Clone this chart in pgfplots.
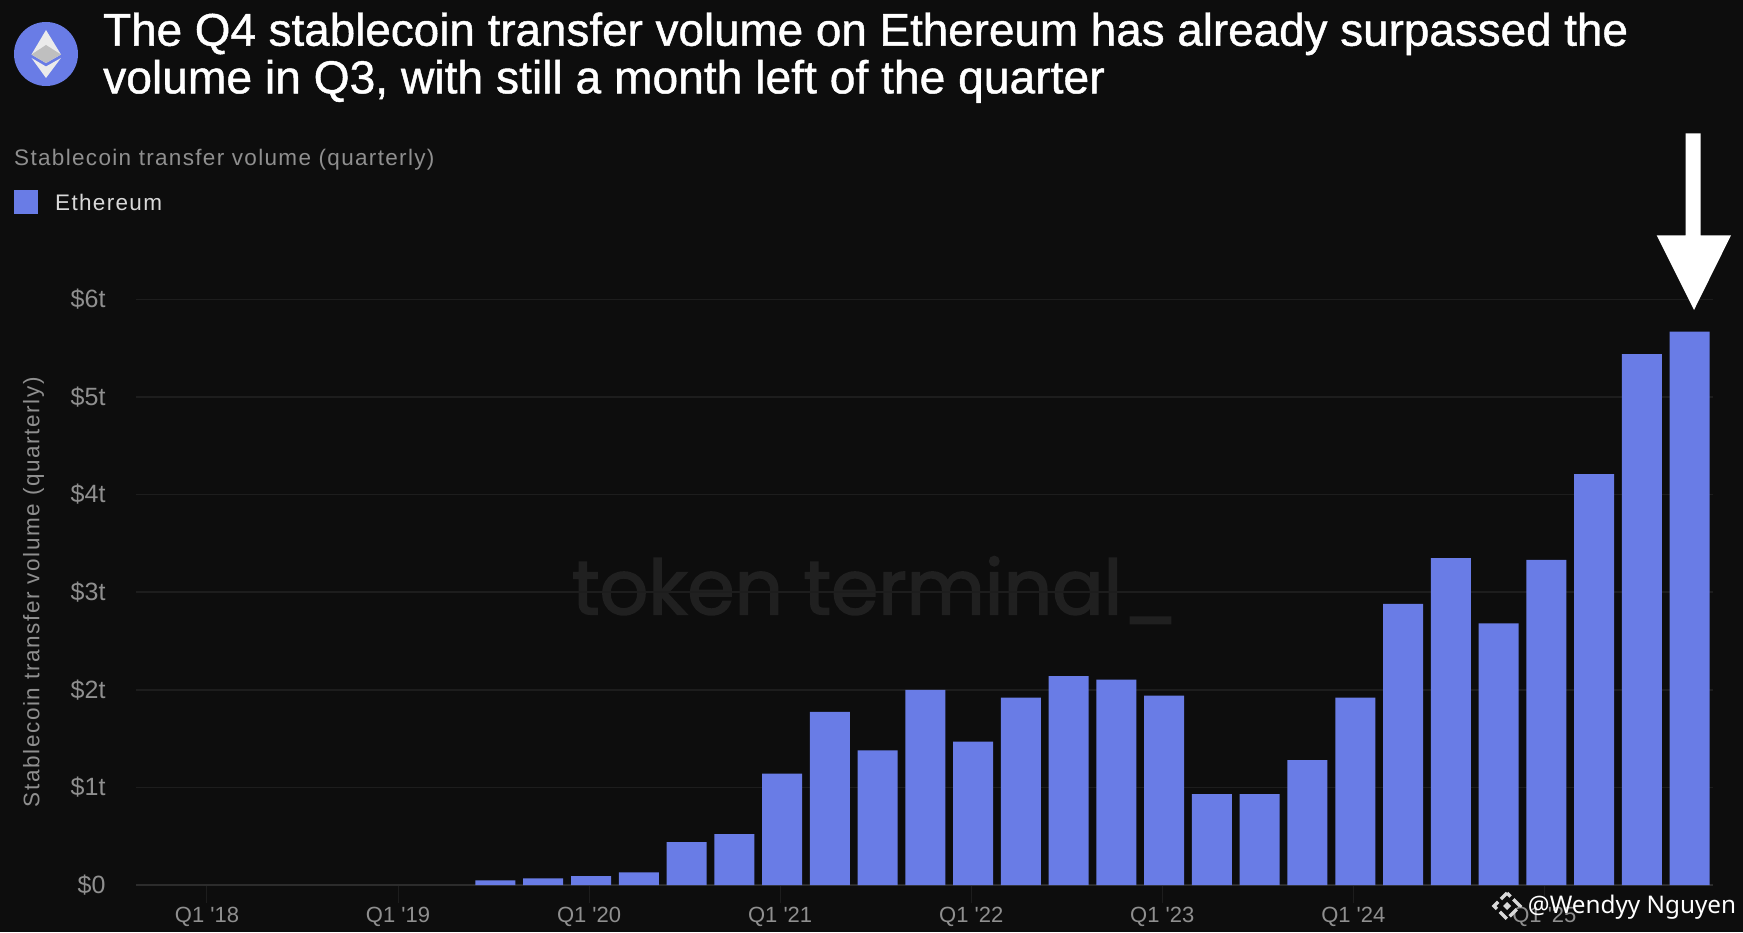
\documentclass[border=0pt]{standalone}
\usepackage{fontspec}
\setmainfont{Liberation Sans}
\newfontfamily\wmfont[FakeBold=2]{Poppins}
\newfontfamily\opfont{Noto Sans}
\newfontfamily\titlefont[FakeBold=1]{Liberation Sans}
\newfontfamily\spfont[LetterSpace=5.9]{Liberation Sans}
\newfontfamily\ylfont[LetterSpace=7.2]{Liberation Sans}
\newfontfamily\tickfont{Liberation Sans}
\usepackage{pgfplots}
\pgfplotsset{compat=1.18}
\definecolor{bg}{HTML}{0D0D0D}
\definecolor{barc}{HTML}{697CE6}
\definecolor{gridc}{HTML}{1D1D1D}
\definecolor{axc}{HTML}{2C2C2C}
\definecolor{lab}{HTML}{8F8F8F}
\definecolor{wm}{HTML}{202020}
\begin{document}
\begin{tikzpicture}[x=1pt,y=1pt]
\path[use as bounding box,fill=bg] (0,0) rectangle (1743,932);
\node[anchor=center,text=wm,inner sep=0pt] at (875,342) {\fontsize{76}{85}\wmfont\selectfont token terminal\_};
\begin{axis}[
  at={(136pt,47pt)},anchor=south west,
  scale only axis,width=1577pt,height=585.6pt,
  xmin=-1.526,xmax=31.49,ymin=0,ymax=6,
  axis x line=bottom,axis y line=left,
  axis line style={draw=axc,line width=1.5pt,-},
  y axis line style={draw=none},
  ymajorgrids,grid style={draw=gridc,line width=1.5pt},
  ytick={0,1,2,3,4,5,6},
  yticklabels={\$0,\$1t,\$2t,\$3t,\$4t,\$5t,\$6t},
  xtick={-0.04,3.96,7.96,11.96,15.96,19.96,23.96,27.96},
  xticklabels={Q1 '18,Q1 '19,Q1 '20,Q1 '21,Q1 '22,Q1 '23,Q1 '24,Q1 '25},
  xticklabel style={font=\fontsize{22}{24}\tickfont\selectfont,text=lab,yshift=-1pt},
  yticklabel style={font=\fontsize{25}{26}\tickfont\selectfont,text=lab,xshift=-18pt},
  /pgf/number format/assume math mode=true,
  major tick length=18pt,
  x tick style={draw=gridc,line width=1pt},
  y tick style={draw=none},
  ylabel={\ylfont Stablecoin transfer volume (quarterly)},
  ylabel style={at={(axis description cs:-0.065,0.5)},anchor=center,font=\fontsize{22.5}{24}\selectfont,text=lab},
  ybar,bar width=40pt,bar shift=0pt,
  clip=false,
]
\addplot[fill=barc,draw=none] coordinates {
(6,0.048)(7,0.068)(8,0.092)(9,0.13)(10,0.44)(11,0.52)(12,1.14)(13,1.775)(14,1.38)(15,2.0)
(16,1.47)(17,1.92)(18,2.14)(19,2.105)(20,1.94)(21,0.93)(22,0.93)(23,1.28)(24,1.92)(25,2.88)
(26,3.35)(27,2.68)(28,3.33)(29,4.21)(30,5.44)(31,5.67)};
\end{axis}
% title
\node[anchor=base west,text=white,inner sep=0pt] at (103,886.3) {\fontsize{45.8}{48}\titlefont\selectfont The Q4 stablecoin transfer volume on Ethereum has already surpassed the};
\node[anchor=base west,text=white,inner sep=0pt] at (103,838.7) {\fontsize{46.2}{48}\titlefont\selectfont volume in Q3, with still a month left of the quarter};
% logo
\fill[barc] (46,878) circle (32);
\fill[white!92!black] (46,902) -- (31.5,877.5) -- (46,869) -- (61,877.5) -- cycle;
\fill[white!75!black] (46,887) -- (31.5,877.5) -- (46,869) -- (61,877.5) -- cycle;
\fill[white!92!black] (46,854) -- (31.5,874) -- (46,865.5) -- (61,874) -- cycle;
% sub-heading and legend
\node[anchor=west,text=lab,inner sep=0pt] at (14,772) {\fontsize{22.5}{24}\spfont\selectfont Stablecoin transfer volume (quarterly)};
\fill[barc] (14,718) rectangle (38,742);
\node[anchor=west,text=white!85!black,inner sep=0pt] at (55,730) {\fontsize{22.5}{24}\spfont\selectfont Ethereum};
% arrow
\fill[white] (1685.7,798.7) -- (1700.7,798.7) -- (1700.7,696.7) -- (1731,696.7) -- (1694,622) -- (1656.7,696.7) -- (1685.7,696.7) -- cycle;
% watermark
\node[anchor=west,text=white,inner sep=0pt] at (1527.7,24.5) {\fontsize{24.3}{28}\opfont\selectfont @Wendyy Nguyen};
\begin{scope}[shift={(1507,26)},white!85!black]
\draw[line width=3.5pt,dash pattern=on 10pt off 4pt,dash phase=5pt] (0,13) -- (13,0) -- (0,-13) -- (-13,0) -- cycle;
\fill (0,4) -- (4,0) -- (0,-4) -- (-4,0) -- cycle;
\end{scope}
\end{tikzpicture}
\end{document}
